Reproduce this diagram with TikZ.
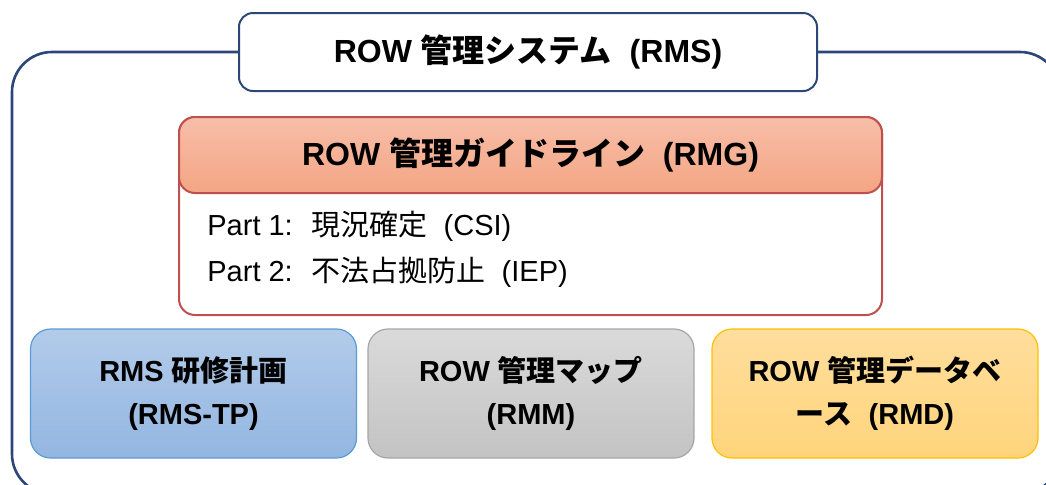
\documentclass[tikz,border=0pt]{standalone}
\usepackage{fontspec}
\setmainfont{Liberation Sans}
\newfontfamily\jpfont{Noto Sans CJK JP}
\newcommand{\ja}[1]{{\jpfont #1}}
\usetikzlibrary{calc}

\definecolor{frameblue}{HTML}{2B4677}
\definecolor{rmgred}{HTML}{C0504D}
\definecolor{rmgtop}{HTML}{F7BEA8}
\definecolor{rmgbot}{HTML}{F4A583}
\definecolor{tpline}{HTML}{5B9BD5}
\definecolor{tptop}{HTML}{B2CBE9}
\definecolor{tpbot}{HTML}{93B6E1}
\definecolor{mmline}{HTML}{A6A6A6}
\definecolor{mmtop}{HTML}{DADADA}
\definecolor{mmbot}{HTML}{C3C3C3}
\definecolor{mdline}{HTML}{FFC000}
\definecolor{mdtop}{HTML}{FFDE9C}
\definecolor{mdbot}{HTML}{FFD47C}

\tikzset{
  titlebox/.style={draw=frameblue, line width=1pt, fill=white, rounded corners=7pt,
    minimum width=289pt, minimum height=39pt,
    font=\bfseries\fontsize{16}{19}\selectfont},
  headbox/.style={draw=rmgred, line width=1pt, rounded corners=8pt,
    top color=rmgtop, bottom color=rmgbot,
    minimum width=351.5pt, minimum height=38pt,
    font=\bfseries\fontsize{16}{19}\selectfont},
  partline/.style={anchor=west, inner sep=0pt, font=\fontsize{14.5}{17}\selectfont},
  unitbox/.style={rounded corners=10pt, line width=0.6pt, align=center,
    minimum width=163pt, minimum height=64.5pt,
    font=\bfseries\fontsize{14.5}{21.5}\selectfont},
}

\begin{document}
\begin{tikzpicture}[x=0.5pt,y=-0.5pt]
  \useasboundingbox (0,0) rectangle (1046,484);

  % outer frame, runs past the page on the right and bottom
  \begin{scope}
    \clip (0,0) rectangle (1046,484);
    \draw[frameblue, line width=1.3pt, rounded corners=20pt] (12,52) rectangle (1060,494);
  \end{scope}

  \node[titlebox] (rms) at (528,52) {ROW \ja{管理システム}~ (RMS)};

  % guideline block
  \draw[rmgred, line width=1pt, fill=white, rounded corners=8pt] (179,117) rectangle (882,315);
  \node[headbox] (rmg) at (530.5,155) {ROW \ja{管理ガイドライン}~ (RMG)};
  \node[partline] (csi) at (207,226) {Part 1:~ \ja{現況確定}~ (CSI)};
  \node[partline] (iep) at (207,272) {Part 2:~ \ja{不法占拠防止}~ (IEP)};

  % three units
  \node[unitbox, draw=tpline, top color=tptop, bottom color=tpbot] (rmstp) at (193.5,393.5)
    {RMS \ja{研修計画}\\(RMS-TP)};
  \node[unitbox, draw=mmline, top color=mmtop, bottom color=mmbot] (rmm) at (531,393.5)
    {ROW \ja{管理マップ}\\(RMM)};
  \node[unitbox, draw=mdline, top color=mdtop, bottom color=mdbot] (rmd) at (875,393.5)
    {ROW \ja{管理データベ}\\\ja{ース}~ (RMD)};
\end{tikzpicture}
\end{document}
